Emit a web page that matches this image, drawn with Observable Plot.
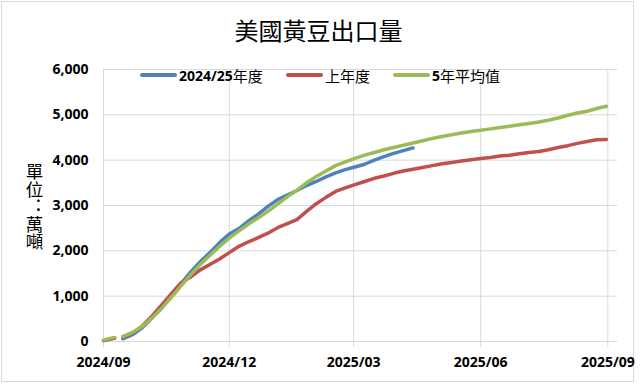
<!DOCTYPE html>
<html>
<head>
<meta charset="utf-8">
<script src="https://cdn.jsdelivr.net/npm/d3@7"></script>
<script src="https://cdn.jsdelivr.net/npm/@observablehq/plot@0.6"></script>
<style>
  html, body { margin: 0; padding: 0; background: #fff; }
  #wrap { position: relative; width: 640px; height: 386px; overflow: hidden; background: #fff; }
  #frame { position: absolute; left: 1px; top: 1px; width: 633px; height: 381px; border: 1px solid #d9d9d9; box-sizing: border-box; }
  #title { position: absolute; left: 0; top: 18px; width: 637px; text-align: center; font-family: "Noto Sans CJK TC", sans-serif; font-size: 24px; line-height: 24px; font-weight: 400; color: #000; }
  #ylabel { position: absolute; left: 25px; top: 163px; width: 18px; height: 90px; writing-mode: vertical-rl; text-orientation: upright; font-feature-settings: "vert" 0, "vrt2" 0; font-family: "Noto Sans CJK TC", sans-serif; font-size: 17.5px; line-height: 18px; color: #000; }
  .leg { position: absolute; top: 66px; height: 18px; display: flex; align-items: center; white-space: nowrap; }
  .sw { width: 37px; height: 4px; border-radius: 2px; margin-right: 2px; }
  .num { font-family: "Open Sans", sans-serif; font-weight: 700; font-size: 14px; }
  .cjk { font-family: "Noto Sans CJK TC", sans-serif; font-weight: 400; font-size: 15px; }
  #chart { position: absolute; left: 0; top: 0; }
</style>
</head>
<body>
<div id="wrap">
  <div id="frame"></div>
  <div id="chart"></div>
  <div id="title">美國黃豆出口量</div>
  <div id="ylabel">單位：萬噸</div>
  <div id="legend"></div>
</div>
<script>
// ---- data ----
const dates = [
  "2024-09-01","2024-09-09","2024-09-12",
  "2024-09-15","2024-09-22","2024-09-29",
  "2024-10-06","2024-10-13","2024-10-20","2024-10-27",
  "2024-11-03","2024-11-10","2024-11-17","2024-11-24",
  "2024-12-01","2024-12-08","2024-12-15","2024-12-22","2024-12-29",
  "2025-01-05","2025-01-12","2025-01-19","2025-01-26",
  "2025-02-02","2025-02-09","2025-02-16","2025-02-23",
  "2025-03-02","2025-03-09","2025-03-16","2025-03-23","2025-03-30",
  "2025-04-06","2025-04-13","2025-04-20","2025-04-27",
  "2025-05-04","2025-05-11","2025-05-18","2025-05-25",
  "2025-06-01","2025-06-08","2025-06-15","2025-06-22","2025-06-29",
  "2025-07-06","2025-07-13","2025-07-20","2025-07-27",
  "2025-08-03","2025-08-10","2025-08-17","2025-08-24","2025-08-31"
];

const seriesNames = ["2024/25年度", "上年度", "5年平均值"];

const currentYear = [
  20, 80, null,
  60, 150, 300, 520, 740, 1010, 1270, 1530, 1760, 1960,
  2180, 2370, 2490, 2660, 2810, 2980, 3130, 3230, 3330, 3440,
  3530, 3630, 3720, 3790, 3850, 3910, 4000, 4080, 4150, 4210, 4270
];

const lastYear = [
  20, 70, null,
  100, 190, 340, 560, 800, 1050, 1290, 1420, 1580, 1700,
  1820, 1960, 2100, 2200, 2290, 2390, 2510, 2600, 2690, 2870,
  3040, 3180, 3310, 3390, 3460, 3530, 3600, 3650, 3710, 3760,
  3800, 3840, 3880, 3920, 3950, 3980, 4010, 4035, 4060, 4090,
  4110, 4140, 4170, 4190, 4230, 4280, 4320, 4370, 4410, 4450, 4455
];

const fiveYearAvg = [
  30, 90, null,
  110, 200, 330, 520, 730, 970, 1220, 1470, 1700, 1900,
  2100, 2280, 2440, 2590, 2730, 2870, 3030, 3190, 3340, 3500,
  3640, 3760, 3880, 3960, 4040, 4110, 4170, 4230, 4280, 4330,
  4380, 4430, 4480, 4520, 4560, 4600, 4630, 4660, 4690, 4720,
  4750, 4780, 4810, 4840, 4880, 4930, 4990, 5040, 5080, 5140, 5190
];

const xTicks = ["2024-09-01", "2024-12-01", "2025-03-01", "2025-06-01", "2025-09-01"];
const xDomain = ["2024-09-01", "2025-09-08"];
const yTicks = [0, 1000, 2000, 3000, 4000, 5000, 6000];
const seriesColors = ["#4f81bd", "#c0504d", "#9bbb59"];

// ---- table ----
const seriesValues = [currentYear, lastYear, fiveYearAvg];
const table = [];
seriesValues.forEach((vals, s) => {
  vals.forEach((v, i) => {
    table.push({ date: new Date(dates[i]), value: v == null ? NaN : v, series: seriesNames[s] });
  });
});
const tickDates = xTicks.map(d => new Date(d));

const chart = Plot.plot({
  width: 640,
  height: 386,
  marginLeft: 103,
  marginRight: 23,
  marginTop: 69,
  marginBottom: 45,
  style: { fontFamily: "'Open Sans', sans-serif", fontSize: "14px", fontWeight: "bold", color: "#000", background: "transparent", overflow: "visible" },
  x: { type: "utc", domain: xDomain.map(d => new Date(d)) },
  y: { domain: [0, 6000] },
  color: { domain: seriesNames, range: seriesColors },
  marks: [
    Plot.gridY(yTicks, { stroke: "#d9d9d9", strokeOpacity: 1, strokeWidth: 1 }),
    Plot.gridX(tickDates, { stroke: "#d9d9d9", strokeOpacity: 1, strokeWidth: 1 }),
    Plot.axisX(tickDates, { tickSize: 6, tickPadding: 10, tickFormat: d3.utcFormat("%Y/%m"), stroke: "#d9d9d9", fill: "#000", label: null }),
    Plot.axisY(yTicks, { tickSize: 0, tickPadding: 15, tickFormat: d3.format(","), fill: "#000", label: null }),
    Plot.line(table, { x: "date", y: "value", z: "series", stroke: "series", strokeWidth: 3.5, strokeLinecap: "round", strokeLinejoin: "round" })
  ]
});
document.getElementById("chart").appendChild(chart);

// ---- legend ----
const legendLeft = [140, 286, 393];
const legendParts = [
  [["num", "2024/25"], ["cjk", "年度"]],
  [["cjk", "上年度"]],
  [["num", "5"], ["cjk", "年平均值"]]
];
const legend = document.getElementById("legend");
seriesNames.forEach((name, i) => {
  const item = document.createElement("div");
  item.className = "leg";
  item.style.left = legendLeft[i] + "px";
  const sw = document.createElement("div");
  sw.className = "sw";
  sw.style.background = seriesColors[i];
  item.appendChild(sw);
  legendParts[i].forEach(([cls, txt]) => {
    const sp = document.createElement("span");
    sp.className = cls;
    sp.textContent = txt;
    item.appendChild(sp);
  });
  legend.appendChild(item);
});
</script>
</body>
</html>
